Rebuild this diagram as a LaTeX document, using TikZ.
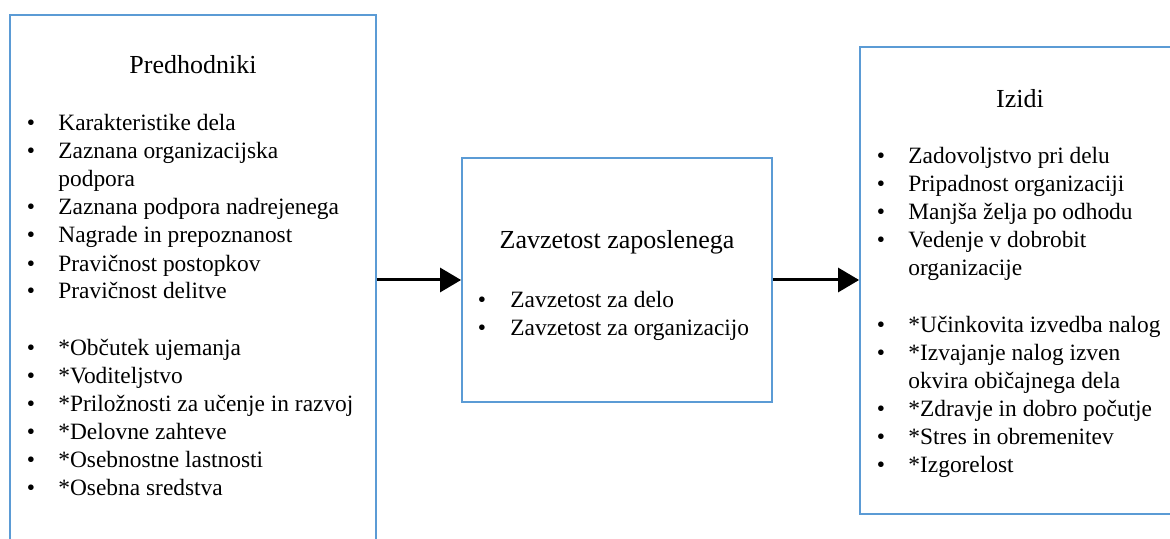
\documentclass[tikz,border=0pt]{standalone}
\usepackage{fontspec}
\setmainfont{Liberation Serif}
\usetikzlibrary{arrows.meta}
\definecolor{boxblue}{RGB}{91,155,213}
\tikzset{
  box/.style={draw=boxblue, line width=0.9pt, inner sep=0pt},
  title/.style={anchor=base, inner sep=0pt, font=\fontsize{13}{15}\selectfont},
  item/.style={anchor=base west, inner sep=0pt, font=\fontsize{11.7}{14}\selectfont},
  dot/.style={anchor=base, inner sep=0pt, font=\fontsize{11.7}{14}\selectfont},
  flow/.style={-{Triangle[length=10.5pt, width=12pt]}, line width=1.5pt}
}
\begin{document}
\begin{tikzpicture}[x=0.5pt, y=-0.5pt]
\useasboundingbox (0,0) rectangle (1170,539);
\clip (0,0) rectangle (1170,539);

% boxes
\node[box, minimum width=183pt, minimum height=272.5pt] (pred) at (193,287.5) {};
\node[box, minimum width=155pt, minimum height=122pt] (zav) at (617,280) {};
\node[box, minimum width=160pt, minimum height=233.5pt] (izidi) at (1020,280.5) {};

% Predhodniki
\node[title] (pred-t) at (193,74) {Predhodniki};
\foreach \y/\s [count=\i] in {131/Karakteristike dela, 159/Zaznana organizacijska,
    215/Zaznana podpora nadrejenega, 243/Nagrade in prepoznanost,
    271/Pravičnost postopkov, 299/Pravičnost delitve,
    355/*Občutek ujemanja, 383/*Voditeljstvo,
    411/*Priložnosti za učenje in razvoj, 439/*Delovne zahteve,
    467/*Osebnostne lastnosti, 495/*Osebna sredstva}{
  \node[dot] (pred-b\i) at (31,\y) {\textbullet};
  \node[item] (pred-\i) at (58,\y) {\s};
}
\node[item] (pred-c) at (58,187) {podpora};

% Zavzetost zaposlenega
\node[title] (zav-t) at (617,249) {Zavzetost zaposlenega};
\foreach \y/\s [count=\i] in {307/Zavzetost za delo, 335/Zavzetost za organizacijo}{
  \node[dot] (zav-b\i) at (482,\y) {\textbullet};
  \node[item] (zav-\i) at (510,\y) {\s};
}

% Izidi
\node[title] (izidi-t) at (1020,108) {Izidi};
\foreach \y/\s [count=\i] in {164/Zadovoljstvo pri delu, 192/Pripadnost organizaciji,
    220/Manjša želja po odhodu, 248/Vedenje v dobrobit,
    332/*Učinkovita izvedba nalog, 360/*Izvajanje nalog izven,
    416/*Zdravje in dobro počutje, 444/*Stres in obremenitev,
    472/*Izgorelost}{
  \node[dot] (izidi-b\i) at (881,\y) {\textbullet};
  \node[item] (izidi-\i) at (908,\y) {\s};
}
\node[item] (izidi-c1) at (908,276) {organizacije};
\node[item] (izidi-c2) at (908,388) {okvira običajnega dela};

% arrows
\draw[flow] (pred.east |- zav.west) -- (zav.west);
\draw[flow] (zav.east) -- (izidi.west |- zav.east);
\end{tikzpicture}
\end{document}
